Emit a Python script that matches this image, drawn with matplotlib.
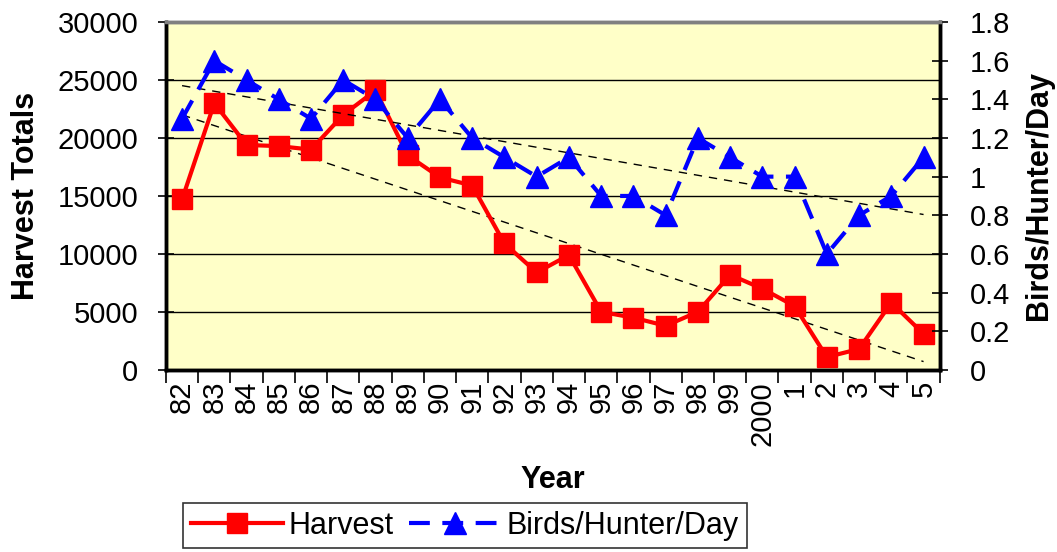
import numpy as np
import matplotlib.pyplot as plt
from matplotlib.ticker import FuncFormatter, FixedLocator

plt.rcParams['font.family'] = ['Liberation Sans', 'DejaVu Sans']

# Dữ liệu
years = ['82', '83', '84', '85', '86', '87', '88', '89', '90', '91', '92', '93',
         '94', '95', '96', '97', '98', '99', '2000', '1', '2', '3', '4', '5']
harvest = [14700, 23000, 19400, 19300, 19000, 22000, 24100, 18500, 16600, 15900,
           10900, 8400, 9900, 5000, 4500, 3800, 5000, 8200, 7000, 5500,
           1100, 1800, 5800, 3100]
birds_per_day = [1.3, 1.6, 1.5, 1.4, 1.3, 1.5, 1.4, 1.2, 1.4, 1.2, 1.1, 1.0,
                 1.1, 0.9, 0.9, 0.8, 1.2, 1.1, 1.0, 1.0, 0.6, 0.8, 0.9, 1.1]

x = np.arange(len(years))

fig = plt.figure(figsize=(10.57, 5.52), dpi=100)
ax = fig.add_axes([0.157, 0.330, 0.732, 0.630])
ax.set_facecolor('#FFFFC8')
ax2 = ax.twinx()

# Đường xu hướng tuyến tính (như Excel)
k1, b1 = np.polyfit(x, harvest, 1)
k2, b2 = np.polyfit(x, birds_per_day, 1)

ax.plot(x, k1 * x + b1, color='black', lw=1, ls=(0, (6, 5)), zorder=2)
ax2.plot(x, k2 * x + b2, color='black', lw=1, ls=(0, (6, 5)), zorder=2)

l1, = ax.plot(x, harvest, color='#FF0000', lw=3, marker='s', markersize=15,
              label='Harvest', zorder=3)
l2, = ax2.plot(x, birds_per_day, color='#0000FF', lw=3, ls=(0, (5, 3)),
               marker='^', markersize=16, label='Birds/Hunter/Day', zorder=3)

ax.set_xlim(-0.5, len(years) - 0.5)
ax.set_ylim(0, 30000)
ax2.set_ylim(0, 1.8)

ax.set_yticks(np.arange(0, 30001, 5000))
ax.grid(axis='y', color='black', lw=1)
ax.set_axisbelow(True)
ax2.set_yticks(np.arange(0, 1.81, 0.2))
ax2.yaxis.set_major_formatter(FuncFormatter(lambda v, p: '%g' % round(v, 1)))

ax.set_xticks(x)
ax.set_xticklabels(years, rotation=90, va='top')
ax.xaxis.set_minor_locator(FixedLocator(np.arange(-0.5, len(years), 1)))
ax.tick_params(axis='x', which='major', length=0, pad=8, labelsize=21)
ax.tick_params(axis='x', which='minor', length=9, width=1.2, direction='out')
ax.tick_params(axis='y', labelsize=21, length=12, width=1.2, direction='inout',
               pad=14)
ax2.tick_params(axis='y', labelsize=21, length=12, width=1.2, direction='inout',
                pad=16)

for a in (ax, ax2):
    for s in ('left', 'bottom', 'right'):
        a.spines[s].set_linewidth(2.5)
        a.spines[s].set_color('black')
    a.spines['top'].set_linewidth(2.5)
    a.spines['top'].set_color('#808080')

ax.set_xlabel('Year', fontsize=22, fontweight='bold', labelpad=14)
ax.set_ylabel('Harvest Totals', fontsize=22, fontweight='bold', labelpad=12)
ax2.set_ylabel('Birds/Hunter/Day', fontsize=22, fontweight='bold', labelpad=10)

leg = fig.legend(handles=[l1, l2], loc='center', bbox_to_anchor=(0.44, 0.048),
                 ncol=2, fontsize=22, frameon=True, fancybox=False,
                 edgecolor='black', handlelength=3.0, columnspacing=0.5,
                 handletextpad=0.2, borderpad=0.25)
leg.get_frame().set_linewidth(1.2)

plt.savefig('out.png', dpi=100)
